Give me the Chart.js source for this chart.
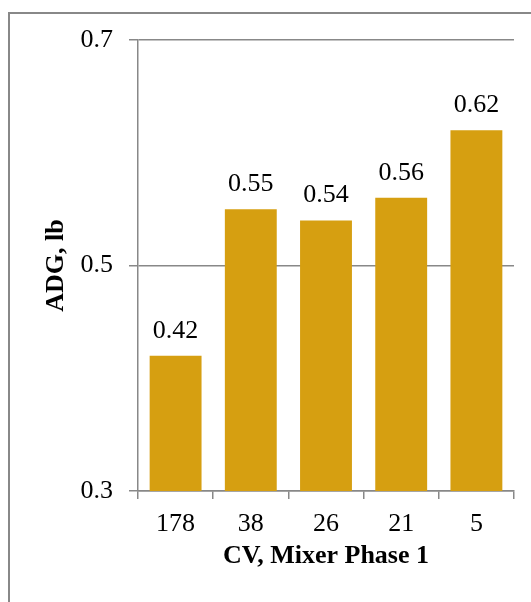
<!DOCTYPE html>
<html>
<head>
<meta charset="utf-8">
<script src="https://cdn.jsdelivr.net/npm/chart.js@4/dist/chart.umd.min.js"></script>
<style>
    html, body { margin: 0; padding: 0; background: #fff; }
    #wrap { position: relative; width: 531px; height: 602px; overflow: hidden; }
    #frame {
        position: absolute; left: 8px; top: 12px; right: -10px; bottom: -10px;
        border-left: 2px solid #888; border-top: 2px solid #888;
    }
    #ADGChart { position: absolute; left: 0; top: 0; }
</style>
</head>
<body>
<div id="wrap">
    <div id="frame"></div>
    <canvas id="ADGChart" width="531" height="602"></canvas>
</div>
<script>
const categories = ['178', '38', '26', '21', '5'];
const adgValues = [0.42, 0.55, 0.54, 0.56, 0.62];
const yTicks = [0.3, 0.5, 0.7];

const serif = "'Liberation Serif', 'Times New Roman', serif";

// value labels above each bar
const barLabels = {
    id: 'barLabels',
    afterDatasetsDraw(chart) {
        const ctx = chart.ctx;
        const meta = chart.getDatasetMeta(0);
        ctx.save();
        ctx.fillStyle = '#000';
        ctx.font = '26px ' + serif;
        ctx.textAlign = 'center';
        ctx.textBaseline = 'alphabetic';
        meta.data.forEach(function (bar, i) {
            ctx.fillText(adgValues[i].toFixed(2), bar.x, bar.y - 18);
        });
        ctx.restore();
    }
};

const ctx = document.getElementById('ADGChart');
const ADGChart = new Chart(ctx, {
    type: 'bar',
    data: {
        labels: categories,
        datasets: [{
            data: adgValues,
            backgroundColor: '#D69F11',
            categoryPercentage: 1,
            barPercentage: 0.69
        }]
    },
    options: {
        responsive: false,
        animation: false,
        layout: { padding: { top: 40, right: 17, bottom: 0, left: 0 } },
        plugins: {
            legend: { display: false },
            tooltip: { enabled: false }
        },
        scales: {
            x: {
                afterFit: function (scale) { scale.height = 111; },
                grid: {
                    offset: true,
                    drawOnChartArea: false,
                    color: '#888',
                    lineWidth: 1.5,
                    tickLength: 8
                },
                border: { color: '#888', width: 1.5 },
                ticks: {
                    color: '#000',
                    padding: 10,
                    font: { family: serif, size: 26 }
                },
                title: {
                    display: true,
                    text: 'CV, Mixer Phase 1',
                    color: '#000',
                    padding: { top: 0, bottom: 30 },
                    font: { family: serif, size: 26, weight: 'bold' }
                }
            },
            y: {
                min: 0.3,
                max: 0.7,
                afterFit: function (scale) { scale.width = 138; },
                afterBuildTicks: function (scale) {
                    scale.ticks = yTicks.map(function (v) { return { value: v }; });
                },
                grid: {
                    color: '#888',
                    lineWidth: 1.5,
                    tickLength: 9
                },
                border: { color: '#888', width: 1.5 },
                ticks: {
                    color: '#000',
                    padding: 16,
                    font: { family: serif, size: 26 },
                    callback: function (value) { return value.toFixed(1); }
                },
                title: {
                    display: true,
                    text: 'ADG, lb',
                    color: '#000',
                    padding: { top: 41, bottom: 0 },
                    font: { family: serif, size: 26, weight: 'bold' }
                }
            }
        }
    },
    plugins: [barLabels]
});
</script>
</body>
</html>
